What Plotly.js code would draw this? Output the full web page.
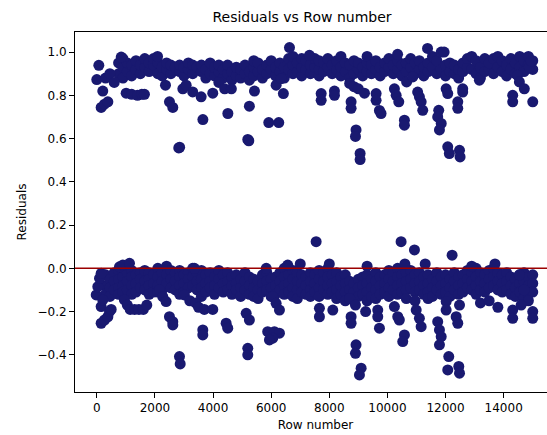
<!DOCTYPE html>
<html>
<head>
<meta charset="utf-8">
<script src="https://cdn.plot.ly/plotly-3.0.1.min.js"></script>
<style>
html,body{margin:0;padding:0;overflow:hidden;background:#fff;}
#chart{width:556px;height:435px;}
</style>
</head>
<body>
<div id="chart"></div>
<script>
// Dense part of the upper band: [row number, residuals...]
const upperBand = [
[750,0.90,0.95],[900,0.88,0.93,0.97],[1050,0.91,0.95],[1200,0.89,0.94],[1350,0.92,0.96],
[1500,0.90,0.94],[1650,0.93,0.97],[1800,0.91,0.95],[1950,0.94,0.97],[2100,0.90,0.95],
[2250,0.89,0.93],[2400,0.92,0.95],[2550,0.90,0.94],[2700,0.93],[2850,0.91,0.94],
[3000,0.89,0.93],[3150,0.92,0.95],[3300,0.90,0.94],[3450,0.93],[3600,0.91,0.94],
[3750,0.88,0.92],[3900,0.90,0.95],[4050,0.89,0.93],[4200,0.91,0.94],[4350,0.88,0.92],
[4500,0.90,0.94],[4650,0.87,0.91],[4800,0.89,0.93],[4950,0.88,0.92],[5100,0.90,0.94],
[5250,0.87,0.91],[5400,0.89,0.93,0.96],[5550,0.91,0.95],[5700,0.88,0.92],[5850,0.90,0.94],
[6000,0.92,0.96],[6150,0.89,0.93],[6300,0.91,0.95],[6450,0.88,0.93],[6600,0.92,0.97],
[6750,0.90,0.94,0.98],[6900,0.91,0.95],[7050,0.89,0.93,0.97],[7200,0.92,0.96],[7350,0.90,0.94],
[7500,0.93,0.97],[7650,0.89,0.92,0.96],[7800,0.91,0.95],[7950,0.93,0.97],[8100,0.90,0.94],
[8250,0.92,0.96],[8400,0.89,0.93,0.98],[8550,0.91,0.95],[8700,0.88,0.94],[8850,0.90,0.96],
[9000,0.92,0.95],[9150,0.89,0.93],[9300,0.91,0.95,0.98],[9450,0.90,0.94],[9600,0.92,0.96],
[9750,0.89,0.93],[9900,0.91,0.95],[10050,0.93,0.97],[10200,0.90,0.94],[10350,0.92,0.96,0.99],
[10500,0.89,0.94],[10650,0.91,0.95],[10800,0.93,0.97],[10950,0.90,0.95],[11100,0.92,0.96],
[11250,0.89,0.93],[11400,0.91,0.95],[11550,0.93,0.98],[11700,0.90,0.96],[11850,0.92,1.00],
[12000,0.89,0.94],[12150,0.91,0.95],[12300,0.90,0.94],[12450,0.88,0.92],[12600,0.91,0.95],
[12750,0.93,0.97],[12900,0.92,0.98],[13050,0.90,0.96],[13200,0.88,0.93],[13350,0.91,0.97],
[13500,0.92,0.95],[13650,0.90,0.97],[13800,0.93,0.98],[13950,0.91,0.96],[14100,0.89,0.94],
[14250,0.92,0.97],[14400,0.90,0.95],[14550,0.93,0.98],[14700,0.91,0.96],[14850,0.94,0.98],
[15000,0.92,0.96]
];

// Scattered points of the upper band
const upperRows = [0,70,206,150,265,380,300,450,600,840,1010,1200,1400,1550,1640,2090,2363,2500,2615,2820,
2850,2960,3075,3300,3590,3650,3990,4200,4400,4630,4510,5195,5230,5250,5425,5917,6261,6170,6345,6420,
6630,7317,7720,7720,8177,8177,8700,8850,9000,9210,8750,8750,8920,8900,9060,9060,9610,9610,9725,9780,
10240,10300,10390,10585,10585,10660,10870,11040,11100,11160,11215,11765,11730,11850,11790,12075,12130,12480,12500,12020,
12075,12420,12420,12590,12590,13165,14480,14540,14710,14310,14310,15000,14885,14945,11380,11950];
const upperResiduals = [0.873,0.939,0.82,0.744,0.759,0.77,0.88,0.90,0.86,0.977,0.81,0.805,0.80,0.805,0.805,0.98,0.847,0.77,0.744,0.557,
0.56,0.83,0.847,0.816,0.793,0.688,0.81,0.86,0.83,0.83,0.716,0.596,0.59,0.75,0.82,0.674,0.674,0.847,0.877,0.808,
1.021,0.985,0.808,0.777,0.82,0.80,0.855,0.84,0.83,0.81,0.77,0.74,0.64,0.61,0.531,0.503,0.808,0.777,0.73,0.716,
0.83,0.80,0.77,0.685,0.662,0.862,0.885,0.815,0.793,0.77,0.731,0.731,0.70,0.67,0.64,0.562,0.531,0.546,0.515,0.83,
0.808,0.77,0.74,0.83,0.815,0.87,0.893,0.862,0.83,0.80,0.77,0.77,0.93,0.96,1.017,1.0];

// Dense part of the lower band: [row number, residuals...]
const lowerBand = [
[300,-0.03,-0.08,-0.12],[450,-0.05,-0.09,-0.13],[600,-0.02,-0.06,-0.10],[750,-0.01,-0.05,-0.09,-0.12],
[900,0.0,-0.04,-0.08,-0.11],[1050,-0.02,-0.06,-0.10],[1200,-0.01,-0.04,-0.08,-0.12],[1350,-0.03,-0.07,-0.11],
[1500,-0.02,-0.05,-0.09],[1650,-0.01,-0.06,-0.10],[1800,-0.02,-0.05,-0.08,-0.12],[1950,-0.03,-0.07,-0.11],
[2100,0.0,-0.04,-0.08,-0.11],[2250,-0.02,-0.06,-0.10],[2400,0.01,-0.03,-0.07],[2550,-0.01,-0.05,-0.09],
[2700,-0.02,-0.06,-0.10],[2850,-0.01,-0.04,-0.08,-0.12],[3000,-0.03,-0.07,-0.11],[3150,-0.02,-0.05,-0.09],
[3300,0.0,-0.04,-0.08],[3450,-0.02,-0.06,-0.10],[3600,-0.01,-0.05,-0.09,-0.13],[3750,-0.03,-0.07,-0.11],
[3900,-0.02,-0.06,-0.09],[4050,-0.04,-0.08,-0.12],[4200,-0.01,-0.05,-0.09],[4350,-0.03,-0.07,-0.11],
[4500,-0.02,-0.06,-0.10],[4650,-0.04,-0.08,-0.12],[4800,-0.03,-0.07,-0.10],[4950,-0.05,-0.09,-0.13],
[5100,-0.02,-0.06,-0.10],[5250,-0.04,-0.08,-0.12],[5400,-0.05,-0.09,-0.13],[5550,-0.06,-0.10,-0.14],
[5700,-0.03,-0.07,-0.11],[5850,-0.02,-0.06,-0.10],[6000,-0.05,-0.09,-0.13],[6150,-0.04,-0.08,-0.12],
[6300,-0.02,-0.06,-0.10],[6450,0.0,-0.04,-0.08,-0.12],[6600,-0.03,-0.07,-0.11],[6750,-0.01,-0.05,-0.09,-0.13],
[6900,-0.02,-0.06,-0.10,-0.14],[7050,-0.03,-0.07,-0.11],[7200,-0.04,-0.08,-0.12],[7350,-0.02,-0.06,-0.10,-0.13],
[7500,-0.03,-0.07,-0.11],[7650,-0.01,-0.05,-0.09,-0.13],[7800,-0.02,-0.06,-0.10],[7950,0.0,-0.04,-0.08,-0.12],
[8100,-0.03,-0.07,-0.11],[8250,-0.02,-0.06,-0.10,-0.14],[8400,-0.04,-0.08,-0.12],[8550,-0.03,-0.07,-0.11,-0.15],
[8700,-0.06,-0.10,-0.14],[8850,-0.07,-0.11,-0.15],[9000,-0.05,-0.09,-0.13],[9150,-0.04,-0.08,-0.12],
[9300,-0.03,-0.07,-0.11,-0.15],[9450,-0.05,-0.09,-0.13],[9600,-0.02,-0.06,-0.10,-0.14],[9750,-0.04,-0.08,-0.12],
[9900,-0.03,-0.07,-0.11],[10050,-0.01,-0.05,-0.09,-0.13],[10200,-0.02,-0.06,-0.10],[10350,0.0,-0.04,-0.08,-0.12],
[10500,-0.03,-0.07,-0.11],[10650,-0.02,-0.06,-0.10,-0.14],[10800,-0.01,-0.05,-0.09],[10950,-0.03,-0.07,-0.11,-0.15],
[11100,-0.02,-0.06,-0.10],[11250,-0.04,-0.08,-0.12],[11400,-0.03,-0.07,-0.11,-0.14],[11550,-0.05,-0.09,-0.13],
[11700,-0.02,-0.06,-0.10],[11850,-0.04,-0.08,-0.12],[12000,-0.03,-0.07,-0.11],[12150,-0.05,-0.09,-0.13],
[12300,-0.02,-0.06,-0.10],[12450,-0.04,-0.08,-0.12],[12600,-0.03,-0.07,-0.11],[12750,-0.01,-0.05,-0.09],
[12900,-0.02,-0.06,-0.10],[13050,0.0,-0.04,-0.08,-0.12],[13200,-0.02,-0.06,-0.10],[13350,-0.03,-0.07,-0.11],
[13500,-0.01,-0.05,-0.09],[13650,0.0,-0.04,-0.08],[13800,-0.02,-0.06,-0.10],[13950,-0.03,-0.07,-0.11],
[14100,-0.02,-0.06,-0.10],[14250,-0.04,-0.08,-0.12],[14400,-0.05,-0.09,-0.13],[14550,-0.03,-0.07,-0.11],
[14700,-0.02,-0.06,-0.10,-0.14],[14850,-0.04,-0.08,-0.12],[15000,-0.03,-0.07,-0.11]
];

// Scattered points of the lower band
const lowerRows = [-20,35,93,150,150,206,150,265,380,437,495,780,895,1125,950,1050,1150,1300,1450,1600,
1720,2157,2270,2385,2500,2615,2615,2845,2870,3015,3200,3400,3500,3700,3990,3647,3647,4450,4506,5140,
5250,5195,5195,5880,6110,6285,6055,5940,6055,6170,6285,6570,5830,3360,7547,10470,10930,12225,7660,7660,
8120,8750,8750,8920,8900,9095,9037,8700,8900,9250,9667,9667,9725,10240,10355,10410,10585,10527,10990,11100,
11160,11730,11790,11850,11790,12020,12020,12110,12075,12455,12480,12365,12420,12480,14310,14310,15000,15000,14540,14700,
14850,14600,7000,8000,9300,10600,11300,12900,13700,13200,13500,13800];
const lowerResiduals = [-0.123,-0.085,-0.046,-0.023,-0.177,-0.146,-0.254,-0.239,-0.224,-0.20,-0.19,0.007,0.015,0.023,-0.146,-0.17,-0.19,-0.19,-0.19,-0.19,
-0.17,-0.10,-0.131,-0.154,-0.224,-0.247,-0.262,-0.408,-0.442,-0.123,-0.15,-0.16,-0.18,-0.19,-0.19,-0.285,-0.308,-0.254,-0.277,-0.208,
-0.239,-0.37,-0.40,-0.293,-0.293,-0.30,-0.323,-0.331,-0.131,-0.162,-0.193,0.015,0.0,0.0,0.123,0.123,0.085,0.061,-0.185,-0.224,
-0.193,-0.224,-0.254,-0.354,-0.393,-0.462,-0.493,-0.14,-0.17,-0.20,-0.193,-0.224,-0.277,-0.177,-0.224,-0.239,-0.308,-0.339,-0.193,-0.231,
-0.27,-0.247,-0.285,-0.316,-0.354,-0.154,-0.193,-0.408,-0.47,-0.454,-0.485,-0.224,-0.254,-0.17,-0.193,-0.231,-0.2,-0.231,-0.03,-0.10,
-0.15,-0.17,0.02,0.02,0.01,0.02,0.02,0.01,0.02,-0.16,-0.15,-0.18];

const xs = [], ys = [];
function addBand(band){ band.forEach(r => { for (let i = 1; i < r.length; i++){ xs.push(r[0]); ys.push(r[i]); } }); }
addBand(upperBand); addBand(lowerBand);
upperRows.forEach((r,i)=>{ xs.push(r); ys.push(upperResiduals[i]); });
lowerRows.forEach((r,i)=>{ xs.push(r); ys.push(lowerResiduals[i]); });

const font = {family: 'DejaVu Sans, sans-serif', size: 12, color: '#000'};
const trace = {
  x: xs, y: ys, type: 'scatter', mode: 'markers',
  marker: {color: '#191970', size: 11, line: {width: 0}},
  hoverinfo: 'skip', showlegend: false
};
const layout = {
  width: 556, height: 435,
  margin: {l: 75, r: 0, t: 32, b: 43, pad: 0},
  paper_bgcolor: '#fff', plot_bgcolor: '#fff',
  font: font,
  title: {text: 'Residuals vs Row number', font: {family: 'DejaVu Sans, sans-serif', size: 14, color: '#000'},
          x: 302/556, xref: 'container', xanchor: 'center', y: 1 - 17/435, yref: 'container', yanchor: 'middle'},
  xaxis: {
    range: [-750, 15800], showgrid: false, zeroline: false,
    showline: true, linecolor: '#000', linewidth: 1, mirror: true,
    ticks: 'outside', ticklen: 5, tickwidth: 1, tickcolor: '#000',
    tickmode: 'array', tickvals: [0,2000,4000,6000,8000,10000,12000,14000],
    ticktext: ['0','2000','4000','6000','8000','10000','12000','14000'],
    tickfont: font,
    title: {text: 'Row number', font: font, standoff: 6}
  },
  yaxis: {
    range: [-0.572, 1.093], showgrid: false, zeroline: false,
    showline: true, linecolor: '#000', linewidth: 1, mirror: true,
    ticks: 'outside', ticklen: 5, tickwidth: 1, tickcolor: '#000',
    tickmode: 'array', tickvals: [-0.4,-0.2,0,0.2,0.4,0.6,0.8,1.0],
    ticktext: ['\u22120.4','\u22120.2','0.0','0.2','0.4','0.6','0.8','1.0'],
    tickfont: font,
    title: {text: 'Residuals', font: font, standoff: 8}
  },
  shapes: [{type: 'line', xref: 'paper', x0: 0, x1: 1, yref: 'y', y0: 0, y1: 0,
            line: {color: '#9b0000', width: 1.5}, layer: 'above'}]
};
Plotly.newPlot('chart', [trace], layout, {displayModeBar: false, staticPlot: true});
</script>
</body>
</html>
